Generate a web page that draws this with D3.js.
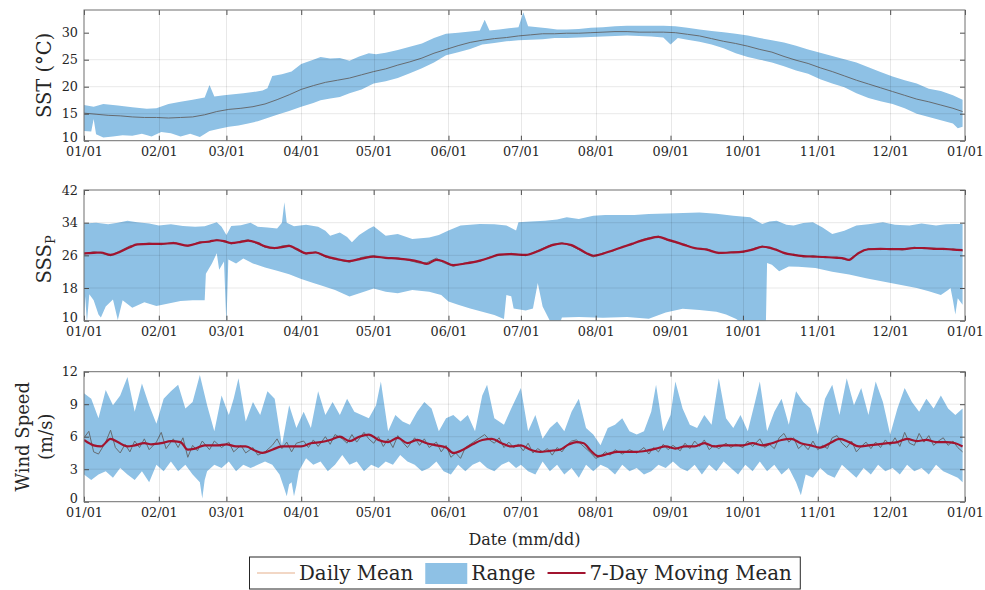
<!DOCTYPE html>
<html>
<head>
<meta charset="utf-8">
<script src="https://cdn.jsdelivr.net/npm/d3@7"></script>
<style>
  body { margin: 0; background: #fff; }
  text { font-family: "DejaVu Serif", serif; fill: #262626; }
</style>
</head>
<body>
<svg class="display"></svg>
<script>
// [day of year, value] pairs
const sstUpper = [[0,16.6],[4,16.3],[8,16.8],[14,16.5],[20,16.2],[26,15.9],[30,16.0],[35,16.8],[40,17.2],[45,17.6],[50,18.0],[52,20.3],[54,18.2],[58,18.4],[62,18.6],[66,18.8],[70,19.0],[74,19.3],[76,19.7],[78,22.0],[82,22.3],[86,22.8],[90,24.2],[95,25.0],[98,25.5],[102,25.2],[106,25.3],[110,24.8],[114,25.6],[118,26.2],[121,26.0],[125,26.3],[130,26.8],[135,27.4],[140,28.0],[145,29.0],[150,29.8],[155,30.0],[160,30.2],[164,30.4],[166,32.4],[168,30.4],[172,30.6],[176,30.8],[180,31.0],[182,33.8],[184,31.2],[188,31.0],[192,30.8],[196,30.6],[200,30.6],[205,30.7],[210,30.9],[215,31.0],[220,31.2],[225,31.3],[230,31.3],[235,31.3],[240,31.3],[245,31.2],[250,30.9],[255,30.6],[260,30.3],[265,30.1],[270,29.8],[275,29.5],[280,29.0],[285,28.6],[290,28.2],[295,27.6],[300,26.9],[305,26.3],[310,25.7],[315,25.1],[320,24.5],[325,23.6],[330,22.7],[335,21.9],[340,21.2],[345,20.6],[350,19.6],[355,19.2],[360,18.4],[364,17.6]];
const sstLower = [[0,11.8],[3,11.7],[4,14.0],[5,11.2],[8,10.6],[12,10.8],[16,11.0],[20,10.9],[24,11.3],[28,10.8],[32,11.6],[36,11.4],[40,10.8],[44,11.3],[48,10.7],[52,11.8],[56,12.2],[60,12.6],[64,12.8],[68,13.2],[72,13.6],[76,14.2],[80,14.8],[85,15.5],[90,16.3],[95,17.0],[98,17.5],[102,17.8],[106,18.1],[110,18.8],[115,19.5],[120,20.6],[125,21.0],[130,21.6],[135,22.5],[140,23.4],[145,24.5],[150,25.8],[155,26.4],[160,27.0],[165,27.8],[170,28.1],[175,28.4],[180,28.6],[185,28.7],[190,28.8],[195,29.0],[200,29.0],[205,29.1],[210,29.2],[215,29.3],[220,29.4],[225,29.5],[230,29.4],[235,29.3],[240,29.1],[243,27.8],[246,29.0],[250,28.7],[255,28.3],[260,27.8],[265,27.1],[270,26.2],[275,25.5],[280,25.0],[285,24.5],[290,23.8],[295,23.0],[300,22.4],[305,21.4],[310,20.6],[315,19.9],[320,18.8],[325,17.9],[330,17.3],[335,16.8],[340,16.0],[345,15.0],[350,14.4],[355,13.8],[360,13.2],[362,12.3],[364,12.6]];
const sstDaily = [[0,15.1],[5,14.9],[10,14.7],[15,14.6],[20,14.4],[25,14.3],[30,14.3],[35,14.2],[40,14.3],[45,14.4],[50,14.8],[55,15.4],[60,15.8],[65,16.0],[70,16.3],[75,16.8],[80,17.6],[85,18.5],[90,19.5],[95,20.2],[100,20.8],[105,21.2],[110,21.6],[115,22.2],[120,22.8],[125,23.3],[130,24.0],[135,24.6],[140,25.3],[145,26.2],[150,26.9],[155,27.6],[160,28.2],[165,28.6],[170,28.9],[175,29.1],[180,29.4],[185,29.6],[190,29.8],[195,29.8],[200,29.9],[205,29.9],[210,30.0],[215,30.1],[220,30.2],[225,30.2],[230,30.1],[235,30.1],[240,30.1],[245,30.0],[250,29.7],[255,29.4],[260,28.9],[265,28.4],[270,28.0],[275,27.5],[280,26.9],[285,26.4],[290,25.6],[295,24.9],[300,24.3],[305,23.5],[310,22.8],[315,22.0],[320,21.2],[325,20.5],[330,19.8],[335,19.1],[340,18.4],[345,17.7],[350,17.2],[355,16.6],[360,16.0],[364,15.4]];

const sssUpper = [[0,33.8],[5,34.0],[10,33.6],[14,34.0],[18,34.5],[22,34.1],[27,33.8],[31,33.3],[36,33.6],[41,33.2],[46,33.0],[50,33.1],[55,34.1],[57,33.0],[59,31.0],[61,33.2],[65,33.4],[69,34.0],[72,33.0],[76,32.8],[80,32.6],[82,34.0],[83,39.0],[84,34.0],[87,33.1],[92,33.5],[97,33.0],[100,32.0],[102,30.8],[106,31.6],[109,30.5],[111,29.2],[114,31.0],[118,32.5],[120,33.1],[125,30.8],[130,31.2],[136,30.0],[143,30.4],[147,31.0],[151,32.1],[156,33.3],[164,33.7],[170,33.6],[175,33.3],[179,32.1],[180,34.1],[185,34.3],[191,34.5],[196,34.8],[200,35.3],[205,34.9],[211,35.7],[216,35.9],[222,35.9],[228,35.9],[234,36.1],[245,36.3],[255,36.5],[262,36.2],[269,35.7],[276,35.3],[281,33.7],[284,34.3],[287,34.5],[291,33.5],[294,33.3],[298,33.9],[302,34.1],[306,32.8],[310,31.2],[315,32.0],[320,33.3],[325,33.6],[331,34.1],[336,33.5],[342,33.3],[347,33.8],[353,33.3],[357,33.6],[361,33.7],[364,33.7]];
const sssLower = [[0,9],[0.5,16],[1.2,9.5],[2.2,16.5],[4,15.0],[6,11.5],[7,10.8],[9,13.5],[12,15.2],[14,10.2],[16,15.0],[20,13.2],[25,14.5],[30,13.6],[35,14.2],[40,14.8],[45,15.0],[50,15.0],[50.5,21.5],[53,24.0],[55,26.5],[56,22.5],[58,24.5],[59,9],[59.8,25],[63,24.0],[66,25.2],[70,24.0],[75,23.0],[80,22.2],[85,21.4],[90,20.2],[95,19.2],[98,18.7],[104,17.5],[110,15.9],[116,17.1],[120,17.9],[125,17.1],[130,16.7],[136,17.5],[143,17.1],[148,16.3],[151,14.7],[155,13.9],[160,13.0],[165,12.2],[170,11.4],[174,10.4],[175,16.3],[177,16.0],[178,13.0],[183,12.5],[186,13.0],[188,19.2],[190,13.5],[193,10.0],[195,9],[197,9],[198,10.8],[205,10.9],[215,10.7],[225,10.9],[234,10.5],[241,12.0],[248,12.9],[255,12.6],[262,12.2],[266,11.5],[270,10.5],[274,9],[282.5,9],[283,24.1],[285,23.7],[288,22.1],[292,23.3],[296,23.2],[303,22.9],[310,22.0],[317,21.3],[324,20.4],[331,19.6],[338,18.8],[345,18.0],[350,17.2],[355,16.3],[358,17.5],[359,18.0],[360,15.0],[361,11.5],[362,15.5],[364,13.9]];
const sssDaily = [[0,26.3],[4,26.9],[7,26.5],[11,25.9],[15,27.1],[19,28.3],[22,28.6],[27,29.0],[32,28.6],[37,29.2],[43,28.2],[48,29.3],[52,29.2],[55,29.9],[58,29.3],[61,28.8],[65,29.5],[68,29.8],[72,28.8],[75,28.0],[79,27.6],[82,28.3],[85,28.5],[88,27.3],[92,26.3],[96,26.9],[100,25.6],[104,25.0],[110,24.3],[115,25.5],[120,25.9],[125,25.2],[130,25.4],[135,24.7],[139,24.1],[142,24.2],[146,25.3],[149,24.2],[153,23.3],[158,24.2],[164,24.5],[168,25.6],[172,26.0],[177,26.5],[183,25.9],[188,27.2],[194,28.7],[198,29.1],[202,28.3],[205,27.4],[208,26.4],[211,25.6],[215,26.6],[219,27.0],[223,28.2],[227,28.6],[231,29.8],[234,30.3],[238,30.7],[242,29.6],[245,29.1],[249,28.7],[253,27.6],[258,27.6],[263,26.4],[268,26.9],[273,26.7],[277,27.6],[281,28.3],[284,27.7],[287,27.5],[290,26.4],[294,26.3],[298,25.6],[302,25.9],[307,25.4],[312,25.6],[315,25.0],[317,24.7],[319,25.9],[321,26.4],[325,27.7],[330,27.4],[335,27.7],[339,27.3],[344,28.0],[348,27.6],[352,27.8],[356,27.4],[360,27.6],[364,27.1]];
const sssMoving = [[0,26.5],[4,26.6],[7,26.7],[11,26.1],[15,26.9],[19,28.0],[22,28.7],[27,28.8],[32,28.8],[37,29.0],[43,28.4],[48,29.1],[52,29.4],[55,29.7],[58,29.5],[61,29.0],[65,29.3],[68,29.6],[72,29.0],[75,28.2],[79,27.8],[82,28.0],[85,28.3],[88,27.6],[92,26.5],[96,26.7],[100,25.8],[104,25.2],[110,24.6],[115,25.2],[120,25.7],[125,25.4],[130,25.2],[135,24.9],[139,24.4],[142,23.9],[146,24.9],[149,24.5],[153,23.6],[158,24.0],[164,24.7],[168,25.4],[172,26.2],[177,26.3],[183,26.1],[188,27.0],[194,28.5],[198,28.9],[202,28.5],[205,27.6],[208,26.6],[211,25.9],[215,26.4],[219,27.2],[223,28.0],[227,28.8],[231,29.6],[234,30.1],[238,30.5],[242,29.8],[245,29.3],[249,28.5],[253,27.8],[258,27.4],[263,26.6],[268,26.7],[273,26.9],[277,27.4],[281,28.1],[284,27.9],[287,27.3],[290,26.6],[294,26.1],[298,25.8],[302,25.7],[307,25.6],[312,25.4],[315,25.2],[317,24.9],[319,25.7],[321,26.6],[325,27.5],[330,27.6],[335,27.5],[339,27.5],[344,27.8],[348,27.8],[352,27.6],[356,27.6],[360,27.4],[364,27.3]];

const windUpper = [[0,10.0],[3,9.5],[6,7.7],[9,10.3],[12,8.9],[15,9.8],[18,11.5],[21,8.3],[24,10.9],[27,8.9],[30,7.2],[33,9.5],[36,10.2],[39,10.8],[42,8.6],[45,9.2],[48,11.7],[51,8.9],[54,6.5],[57,9.8],[60,8.0],[62,9.5],[64,11.4],[67,7.4],[70,9.2],[73,8.0],[76,10.2],[79,9.5],[82,5.2],[85,8.9],[88,6.8],[91,8.3],[94,6.8],[97,10.2],[100,8.0],[103,9.2],[106,8.0],[109,9.5],[112,8.3],[115,8.0],[118,7.7],[121,8.9],[123,11.1],[126,6.5],[129,8.0],[132,7.4],[135,7.1],[138,8.3],[141,9.2],[144,8.6],[147,6.5],[150,7.7],[153,8.0],[156,7.4],[159,8.0],[162,6.5],[165,9.8],[167,10.8],[170,7.7],[174,7.1],[177,8.6],[181,10.5],[184,6.5],[187,8.0],[190,5.8],[193,6.8],[196,7.4],[199,6.5],[202,8.3],[205,9.5],[208,6.8],[211,6.2],[214,5.2],[217,6.8],[220,7.1],[223,7.7],[226,6.5],[229,6.2],[232,6.5],[235,8.3],[237,10.8],[240,6.5],[243,8.0],[245,11.1],[248,8.6],[251,7.1],[254,6.8],[257,8.0],[260,7.1],[263,11.4],[266,7.7],[269,6.8],[272,8.0],[275,6.5],[278,9.2],[280,11.1],[283,6.5],[286,8.3],[289,9.5],[292,7.1],[295,10.2],[298,9.2],[301,8.6],[304,6.2],[307,9.5],[310,10.8],[313,8.0],[316,11.4],[319,8.9],[322,10.5],[325,8.0],[328,11.1],[331,9.2],[334,6.2],[337,8.6],[340,10.5],[343,9.2],[346,8.3],[349,9.5],[352,8.6],[355,9.8],[358,8.6],[361,8.0],[364,8.6]];
const windLower = [[0,2.5],[3,2.0],[6,2.5],[9,2.8],[12,2.2],[15,3.1],[18,2.5],[21,2.0],[24,2.8],[27,1.8],[30,3.4],[33,2.8],[36,3.7],[39,2.8],[42,3.4],[45,2.5],[48,1.8],[49,0.3],[50,2.0],[51,2.8],[54,3.4],[57,3.1],[60,3.7],[63,2.8],[66,3.4],[69,3.1],[72,3.4],[75,3.7],[78,3.4],[81,2.5],[83,1.2],[84,0.5],[85,1.6],[86,1.8],[87,0.5],[88,1.5],[89,2.8],[92,4.0],[95,3.4],[98,3.7],[101,2.8],[104,3.4],[107,4.3],[110,3.4],[113,3.7],[116,2.8],[119,3.4],[122,3.1],[125,3.7],[128,3.4],[131,4.3],[134,3.7],[137,3.4],[140,2.8],[143,3.1],[146,3.7],[149,2.8],[152,2.5],[155,3.4],[158,2.8],[161,3.4],[164,3.7],[167,3.1],[170,2.8],[173,3.4],[176,3.7],[179,3.1],[181,3.4],[184,2.8],[187,2.5],[190,3.7],[193,2.8],[196,3.4],[199,2.5],[202,3.1],[205,2.2],[208,3.4],[211,2.8],[214,3.4],[217,3.1],[220,2.5],[223,3.4],[226,2.8],[229,3.1],[232,2.5],[235,2.8],[238,3.4],[241,3.1],[244,3.7],[247,3.1],[250,2.8],[253,3.4],[256,2.5],[259,3.4],[262,2.8],[265,3.7],[268,3.1],[271,2.5],[274,3.4],[277,2.8],[280,3.7],[283,2.8],[286,3.4],[289,2.5],[292,3.1],[295,1.8],[297,0.6],[299,2.5],[302,2.2],[305,3.1],[308,2.5],[311,2.2],[314,3.4],[317,2.8],[320,2.2],[323,3.1],[326,2.5],[329,3.4],[332,2.8],[335,3.1],[338,2.5],[341,3.4],[344,2.8],[347,3.1],[350,2.5],[353,3.4],[356,2.8],[359,2.5],[362,2.2],[364,1.8]];
const windDaily = [[0,5.9],[2,6.5],[4,4.6],[6,4.4],[9,5.5],[11,6.6],[13,5.0],[15,4.5],[17,5.3],[19,4.6],[21,5.6],[23,5.0],[25,5.8],[27,4.8],[30,5.5],[32,6.4],[34,4.9],[37,5.8],[39,5.0],[41,5.9],[43,4.1],[45,5.2],[47,4.7],[49,5.6],[52,4.8],[54,5.6],[57,5.0],[60,5.5],[62,4.6],[65,5.2],[67,4.5],[70,5.0],[72,4.3],[75,4.6],[78,5.2],[80,5.8],[82,4.9],[84,5.5],[86,4.6],[88,5.4],[91,5.6],[93,5.0],[95,5.7],[97,5.1],[100,6.0],[102,5.3],[104,6.2],[107,5.8],[109,5.4],[111,6.2],[113,5.5],[116,6.4],[118,5.8],[120,5.4],[122,6.0],[124,5.1],[126,5.8],[128,5.0],[130,6.1],[132,5.5],[134,5.0],[137,5.9],[139,5.2],[141,5.8],[143,5.0],[146,5.5],[148,4.6],[150,5.2],[152,4.1],[154,4.5],[156,4.0],[158,5.0],[160,5.3],[162,5.6],[164,5.9],[166,6.2],[168,5.7],[170,5.4],[172,5.9],[174,5.0],[176,5.5],[178,5.0],[180,5.3],[182,4.7],[184,5.4],[186,4.5],[188,4.9],[190,4.6],[192,4.9],[194,4.3],[196,5.0],[198,4.6],[200,5.2],[202,5.6],[204,5.7],[206,5.3],[208,4.9],[210,4.5],[212,4.0],[214,4.2],[216,4.6],[218,4.3],[220,4.8],[223,4.4],[226,4.8],[229,4.5],[232,5.0],[234,4.4],[236,5.0],[238,4.6],[240,5.3],[242,4.8],[244,5.2],[247,4.7],[249,5.4],[251,4.9],[253,5.6],[255,5.1],[257,5.7],[259,4.8],[261,5.2],[263,4.9],[266,5.4],[268,5.0],[270,5.3],[273,5.0],[275,5.6],[277,5.1],[280,5.8],[282,5.0],[284,5.3],[286,4.9],[288,5.9],[290,6.3],[292,5.5],[294,5.9],[296,4.9],[298,5.3],[300,4.8],[302,5.6],[304,4.8],[306,5.2],[308,4.9],[310,5.9],[312,6.1],[314,5.4],[316,5.0],[318,5.6],[320,4.6],[322,5.1],[324,5.5],[326,4.9],[328,5.5],[330,5.0],[332,5.7],[334,5.2],[336,5.9],[338,5.1],[340,6.4],[342,5.4],[344,5.2],[346,6.3],[348,5.5],[350,6.1],[352,5.2],[354,5.6],[356,5.9],[358,5.2],[360,5.6],[362,5.0],[364,4.6]];
const windMoving = [[0,5.7],[4,5.2],[7,5.1],[11,5.8],[14,5.5],[18,5.1],[21,5.2],[25,5.4],[28,5.3],[32,5.4],[36,5.6],[40,5.5],[43,4.8],[46,4.9],[50,5.2],[55,5.2],[59,5.3],[63,5.1],[67,5.1],[71,4.7],[74,4.5],[78,4.8],[82,5.1],[86,5.1],[90,5.1],[94,5.4],[98,5.5],[102,5.7],[106,6.0],[110,5.6],[114,6.0],[118,6.2],[122,5.7],[126,5.5],[130,5.9],[134,5.4],[138,5.7],[142,5.4],[146,5.2],[150,5.0],[153,4.5],[157,4.8],[161,5.3],[165,5.7],[169,5.8],[173,5.4],[177,5.1],[181,5.2],[185,4.8],[189,4.6],[193,4.7],[197,4.8],[201,5.3],[204,5.5],[207,5.4],[210,4.7],[213,4.2],[217,4.4],[221,4.6],[225,4.6],[229,4.6],[233,4.7],[237,4.9],[241,5.1],[245,4.9],[249,5.1],[253,5.1],[257,5.4],[261,5.1],[265,5.2],[269,5.2],[273,5.2],[277,5.4],[281,5.2],[285,5.4],[289,5.7],[293,5.8],[297,5.4],[301,5.2],[305,5.0],[309,5.4],[313,5.8],[317,5.5],[321,5.1],[325,5.2],[329,5.3],[333,5.4],[337,5.5],[341,5.8],[345,5.6],[349,5.7],[353,5.5],[357,5.5],[361,5.4],[364,5.1]];

const sstTicks = [10, 15, 20, 25, 30];
const sssTicks = [10, 18, 26, 34, 42];
const windTicks = [0, 3, 6, 9, 12];
const legendLabels = ['Daily Mean', 'Range', '7-Day Moving Mean'];

const width = 985;
const height = 590;
const left = 84;
const right = 965;
const serif = '"DejaVu Serif", serif';

const colors = {
  range: '#8ec1e5',
  daily: '#666b70',
  dailyLegend: '#e6b08c',
  moving: '#a2142f',
  frame: '#6e6e6e'
};

const svg = d3.select('.display')
  .attr('width', width)
  .attr('height', height);

const start = Date.UTC(2021, 0, 1);
const end = Date.UTC(2022, 0, 1);
const x = d3.scaleUtc()
  .domain([new Date(start), new Date(end)])
  .range([left, right]);
const xDay = d => x(new Date(start + d * 864e5));
const months = x.ticks(d3.utcMonth.every(1));

const panels = [
  { top: 10, bottom: 140.7, domain: [10, 34.2], ticks: sstTicks,
    upper: sstUpper, lower: sstLower, daily: sstDaily, moving: null, label: 'sst' },
  { top: 190, bottom: 320.7, domain: [10, 42], ticks: sssTicks,
    upper: sssUpper, lower: sssLower, daily: sssDaily, moving: sssMoving, label: 'sss' },
  { top: 371.7, bottom: 501.7, domain: [0, 12], ticks: windTicks,
    upper: windUpper, lower: windLower, daily: windDaily, moving: windMoving, label: 'wind' }
];

panels.forEach((p, i) => drawPanel(p, i));

function drawPanel(p, i) {
  const y = d3.scaleLinear().domain(p.domain).range([p.bottom, p.top]);
  const g = svg.append('g');

  svg.append('clipPath').attr('id', 'clip' + i)
    .append('rect')
      .attr('x', left).attr('y', p.top)
      .attr('width', right - left).attr('height', p.bottom - p.top);

  const plot = g.append('g').attr('clip-path', 'url(#clip' + i + ')');

  const band = p.upper.map(d => [xDay(d[0]), y(d[1])])
    .concat(p.lower.slice().reverse().map(d => [xDay(d[0]), y(d[1])]));
  plot.append('path')
    .attr('d', d3.line()(band) + 'Z')
    .attr('fill', colors.range);

  const line = d3.line().x(d => xDay(d[0])).y(d => y(d[1]));

  plot.append('path')
    .attr('d', line(p.daily))
    .attr('fill', 'none')
    .attr('stroke', colors.daily)
    .attr('stroke-width', 1);

  if (p.moving) {
    plot.append('path')
      .attr('d', d3.line().curve(d3.curveMonotoneX).x(d => xDay(d[0])).y(d => y(d[1]))(p.moving))
      .attr('fill', 'none')
      .attr('stroke', colors.moving)
      .attr('stroke-width', 2.2);
  }

  // grid on top, translucent like the original
  const grid = g.append('g')
    .attr('stroke', '#000')
    .attr('stroke-opacity', 0.09)
    .attr('stroke-width', 1);
  grid.selectAll('.gx').data(months.slice(1, -1)).enter().append('line')
    .attr('x1', d => Math.round(x(d)) + 0.5).attr('x2', d => Math.round(x(d)) + 0.5)
    .attr('y1', p.top).attr('y2', p.bottom);
  grid.selectAll('.gy').data(p.ticks.slice(1, -1)).enter().append('line')
    .attr('x1', left).attr('x2', right)
    .attr('y1', d => y(d)).attr('y2', d => y(d));

  const fmt = d3.utcFormat('%m/%d');
  const axB = g.append('g').attr('transform', 'translate(0,' + p.bottom + ')')
    .call(d3.axisBottom(x).tickValues(months).tickFormat(fmt).tickSize(-5).tickPadding(6.5));
  const axT = g.append('g').attr('transform', 'translate(0,' + p.top + ')')
    .call(d3.axisTop(x).tickValues(months).tickFormat('').tickSize(-5));
  const axL = g.append('g').attr('transform', 'translate(' + left + ',0)')
    .call(d3.axisLeft(y).tickValues(p.ticks).tickSize(-5).tickPadding(6));
  const axR = g.append('g').attr('transform', 'translate(' + right + ',0)')
    .call(d3.axisRight(y).tickValues(p.ticks).tickFormat('').tickSize(-5));

  [axB, axT, axL, axR].forEach(a => {
    a.attr('font-family', serif);
    a.select('.domain').remove();
    a.selectAll('line').attr('stroke', '#4d4d4d');
    a.selectAll('text')
      .style('font-family', serif)
      .style('font-size', '12.8px')
      .attr('fill', '#262626');
  });
  // lift the lowest y label a little so it clears the first date label
  axL.selectAll('.tick text').filter(d => d === p.ticks[0]).attr('y', -3);

  g.append('rect')
    .attr('x', left).attr('y', p.top)
    .attr('width', right - left).attr('height', p.bottom - p.top)
    .attr('fill', 'none')
    .attr('stroke', colors.frame)
    .attr('stroke-width', 1);

  const cy = (p.top + p.bottom) / 2;
  if (p.label === 'sst') {
    svg.append('text')
      .attr('transform', 'translate(51,' + cy + ') rotate(-90)')
      .attr('text-anchor', 'middle')
      .style('font-size', '19.5px')
      .text('SST (°C)');
  } else if (p.label === 'sss') {
    const t = svg.append('text')
      .attr('transform', 'translate(51,' + (cy + 4) + ') rotate(-90)')
      .attr('text-anchor', 'middle')
      .style('font-size', '19.5px');
    t.append('tspan').text('SSS');
    t.append('tspan').attr('dy', 4).style('font-size', '13px').text('P');
  } else {
    svg.append('text')
      .attr('transform', 'translate(29,' + cy + ') rotate(-90)')
      .attr('text-anchor', 'middle')
      .style('font-size', '18px')
      .text('Wind Speed');
    svg.append('text')
      .attr('transform', 'translate(52,' + cy + ') rotate(-90)')
      .attr('text-anchor', 'middle')
      .style('font-size', '18px')
      .text('(m/s)');
  }
}

svg.append('text')
  .attr('x', (left + right) / 2)
  .attr('y', 545)
  .attr('text-anchor', 'middle')
  .style('font-size', '16px')
  .text('Date (mm/dd)');

// legend
const legend = svg.append('g');
const lgTop = 557;
const lgHeight = 32;
const lgMid = lgTop + lgHeight / 2;
let cx = 8;
legendLabels.forEach((name, i) => {
  if (i === 1) {
    legend.append('rect')
      .attr('x', cx).attr('y', lgMid - 10)
      .attr('width', 42).attr('height', 21)
      .attr('fill', colors.range);
  } else {
    legend.append('line')
      .attr('x1', cx).attr('x2', cx + 38)
      .attr('y1', lgMid).attr('y2', lgMid)
      .attr('stroke', i === 0 ? colors.dailyLegend : colors.moving)
      .attr('stroke-width', i === 0 ? 1.2 : 2);
  }
  cx += i === 1 ? 46 : 42;
  const t = legend.append('text')
    .attr('x', cx).attr('y', lgMid + 7)
    .style('font-size', '19.8px')
    .text(name);
  cx += t.node().getComputedTextLength() + 12;
});
const lgWidth = cx - 4;
legend.insert('rect', ':first-child')
  .attr('x', 0.5).attr('y', lgTop)
  .attr('width', lgWidth).attr('height', lgHeight)
  .attr('fill', '#fff')
  .attr('stroke', '#262626')
  .attr('stroke-width', 1);
legend.attr('transform', 'translate(' + Math.round(524.5 - lgWidth / 2) + ',0)');
</script>
</body>
</html>
